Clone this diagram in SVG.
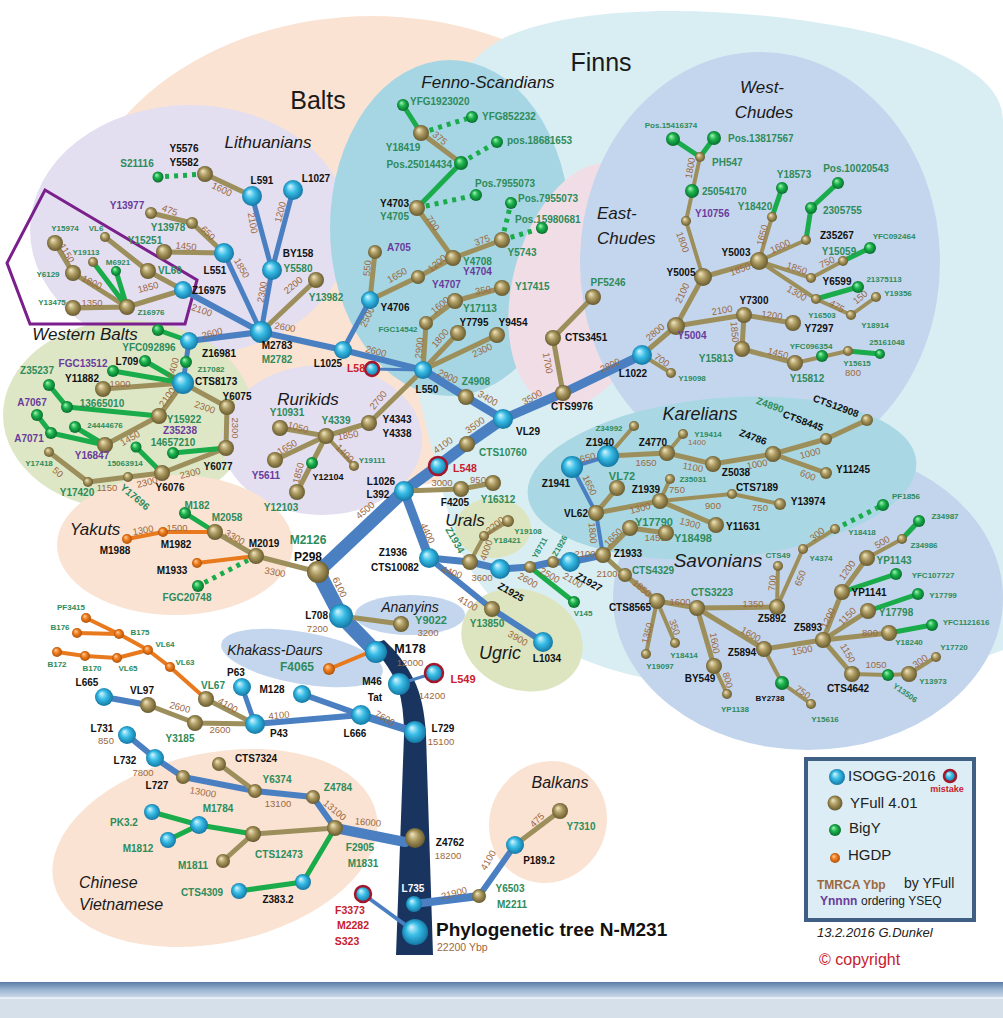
<svg xmlns="http://www.w3.org/2000/svg" width="1003" height="1018" viewBox="0 0 1003 1018">
<defs>
<radialGradient id="gc" cx="0.5" cy="0.5" r="0.55" fx="0.35" fy="0.3"><stop offset="0" stop-color="#d8f6ff"/><stop offset="0.45" stop-color="#38bde6"/><stop offset="1" stop-color="#0f6e9c"/></radialGradient>
<radialGradient id="gt" cx="0.5" cy="0.5" r="0.55" fx="0.35" fy="0.3"><stop offset="0" stop-color="#f1e7c2"/><stop offset="0.45" stop-color="#ab9960"/><stop offset="1" stop-color="#5f5228"/></radialGradient>
<radialGradient id="gg" cx="0.5" cy="0.5" r="0.55" fx="0.35" fy="0.3"><stop offset="0" stop-color="#aaf5b9"/><stop offset="0.45" stop-color="#1bb34c"/><stop offset="1" stop-color="#06652a"/></radialGradient>
<radialGradient id="go" cx="0.5" cy="0.5" r="0.55" fx="0.35" fy="0.3"><stop offset="0" stop-color="#ffd2a2"/><stop offset="0.45" stop-color="#ef7d1e"/><stop offset="1" stop-color="#a84d06"/></radialGradient>
<linearGradient id="bar" x1="0" y1="0" x2="0" y2="1"><stop offset="0" stop-color="#5a7ca6"/><stop offset="0.5" stop-color="#9db6d2"/><stop offset="1" stop-color="#d0dcea"/></linearGradient>
<style>
text{font-family:"Liberation Sans",Arial,sans-serif;dominant-baseline:central;text-anchor:middle}
.b{font-weight:bold;font-size:10px;fill:#111}
.g{font-weight:bold;font-size:10px;fill:#2e8b5a}
.gs{font-weight:bold;font-size:8px;fill:#2e8b5a}
.p{font-weight:bold;font-size:10px;fill:#6a3b9c}
.r{font-weight:bold;font-size:10.5px;fill:#c8202f}
.n{font-size:9.5px;fill:#9c6840}
.it{font-style:italic;font-size:17px;fill:#1a1a1a}
.big{font-size:25px;fill:#1a1a1a}
.s{text-anchor:start}
.e{text-anchor:end}
.bl{stroke:#4a7fc1;fill:none;stroke-linecap:round;stroke-linejoin:round}
.tn{stroke:#9c8f5c;stroke-width:5;fill:none;stroke-linecap:round;stroke-linejoin:round}
.tn4{stroke:#9c8f5c;stroke-width:4;fill:none;stroke-linecap:round;stroke-linejoin:round}
.gr{stroke:#1aab4b;stroke-width:5;fill:none;stroke-linecap:round;stroke-linejoin:round}
.dt{stroke:#1aab4b;stroke-width:5;fill:none;stroke-dasharray:4 5}
.or{stroke:#e8791d;stroke-width:4;fill:none;stroke-linecap:round;stroke-linejoin:round}
.c{fill:url(#gc)}.t{fill:url(#gt)}.gn{fill:url(#gg)}.o{fill:url(#go)}
.m{fill:url(#gc);stroke:#a3162b;stroke-width:2.5}
</style>
</defs>
<rect width="1003" height="1018" fill="#ffffff"/>
<g id="regions">
<ellipse cx="372" cy="252" rx="302" ry="236" fill="#fae3d3"/>
<path d="M500,40 C560,8 700,0 850,28 C950,48 1003,80 1003,120 L1003,650 C900,690 720,700 620,672 C540,650 470,600 450,520 C432,450 420,400 402,330 C392,200 430,80 500,40 Z" fill="#d9eef3"/>
<ellipse cx="190" cy="230" rx="160" ry="125" fill="#e3def0"/>
<ellipse cx="450" cy="228" rx="120" ry="168" fill="#a6d6e3"/>
<ellipse cx="585" cy="285" rx="72" ry="125" transform="rotate(15 585 285)" fill="#f1dde6"/>
<ellipse cx="760" cy="262" rx="180" ry="210" fill="#c4d6ee"/>
<ellipse cx="808" cy="598" rx="195" ry="152" fill="#c3d5ec"/>
<ellipse cx="722" cy="478" rx="195" ry="80" transform="rotate(-5 722 478)" fill="#a9d8e4"/>
<ellipse cx="128" cy="415" rx="125" ry="95" fill="#dde7c6"/>
<ellipse cx="322" cy="440" rx="100" ry="75" fill="#e3def0"/>
<ellipse cx="175" cy="545" rx="118" ry="70" fill="#fae3d3"/>
<ellipse cx="410" cy="615" rx="55" ry="20" fill="#c4d6ee"/>
<ellipse cx="302" cy="658" rx="82" ry="26" transform="rotate(10 302 658)" fill="#c4d6ee"/>
<ellipse cx="522" cy="640" rx="62" ry="50" transform="rotate(20 522 640)" fill="#dde5c0"/>
<ellipse cx="493" cy="528" rx="38" ry="30" fill="#dde5c0"/>
<ellipse cx="215" cy="848" rx="165" ry="95" transform="rotate(-12 215 848)" fill="#fae3d3"/>
<ellipse cx="548" cy="822" rx="58" ry="62" transform="rotate(30 548 822)" fill="#fae3d3"/>
<polygon points="45,190 197,280 185,324 30,324 7,263" fill="none" stroke="#7a1f8c" stroke-width="3"/>
<text class="big" x="318" y="100">Balts</text>
<text class="big" x="601" y="62">Finns</text>
<text class="it" x="268" y="142">Lithuanians</text>
<text class="it" x="488" y="82">Fenno-Scandians</text>
<text class="it" x="762" y="87">West-</text>
<text class="it" x="764" y="112">Chudes</text>
<text class="it s" x="597" y="213">East-</text>
<text class="it s" x="597" y="238">Chudes</text>
<text class="it" x="85" y="334">Western Balts</text>
<text class="it" x="308" y="399">Rurikids</text>
<text class="it" x="95" y="529">Yakuts</text>
<text class="it" x="465" y="520">Urals</text>
<text class="it" x="700" y="414" style="font-size:18px">Karelians</text>
<text class="it" x="718" y="560" style="font-size:19px">Savonians</text>
<text class="it" x="410" y="607" style="font-size:14px">Ananyins</text>
<text class="it" x="275" y="650" style="font-size:14px">Khakass-Daurs</text>
<text class="it" x="500" y="653" style="font-size:18px">Ugric</text>
<text class="it s" x="79" y="882" style="font-size:16px">Chinese</text>
<text class="it s" x="79" y="904" style="font-size:16px">Vietnamese</text>
<text class="it" x="560" y="782" style="font-size:16px">Balkans</text>
</g>
<g id="connectors">
<path d="M370,645 Q392,668 398,688 Q404,706 404,735 L396,955 L433,955 L426,735 Q424,700 414,680 Q402,656 384,640 Z" fill="#19355f"/>
<path class="bl" stroke-width="15" d="M318,572 L341,616 L376,652"/>
<path class="bl" stroke-width="13" d="M318,572 L404,491"/>
<path class="bl" stroke-width="11" d="M404,491 L438,466 L467,444 L503,419"/>
<path class="bl" stroke-width="9" d="M503,419 L563,393 L642,355"/>
<path class="bl" stroke-width="8" d="M503,419 L466,397 L423,370"/>
<path class="bl" stroke-width="6" d="M423,370 L343,350 L261,332"/>
<path class="bl" stroke-width="3" d="M372,369 L423,370"/>
<path class="bl" stroke-width="5" d="M343,350 L370,300"/>
<path class="bl" stroke-width="6" d="M261,332 L189,341"/>
<path class="bl" stroke-width="5" d="M189,341 L183,383"/>
<path class="bl" stroke-width="6" d="M261,332 L183,290"/>
<path class="bl" stroke-width="5" d="M261,332 L224,253 M261,332 L272,270 L252,196 M272,270 L293,190"/>
<path class="bl" stroke-width="9" d="M404,491 L429,558"/>
<path class="bl" stroke-width="7" d="M429,558 L470,562 L500,569 L530,567 L553,562 L570,562 L603,555"/>
<path class="bl" stroke-width="4" d="M603,555 L596,513 L572,467 L608,456"/>
<path class="bl" stroke-width="6" d="M429,558 L492,609 L543,642"/>
<path class="bl" stroke-width="3" d="M399,684 L434,673"/>
<path class="bl" stroke-width="8" d="M415,732 L361,715"/>
<path class="bl" stroke-width="6" d="M361,715 L302,694 M361,715 L255,724 M104,697 L148,705 M127,735 L155,758 L183,777 L255,791 L313,797 L335,828 M479,896 L515,845"/>
<path class="bl" stroke-width="5" d="M255,724 L242,687"/>
<path class="bl" stroke-width="10" d="M335,828 L405,842"/>
<path class="bl" stroke-width="4" d="M363,894 L415,932"/>
<path class="bl" stroke-width="8" d="M414,904 L479,896"/>
<path class="tn" stroke-width="7" d="M318,572 L256,556"/>
<path class="tn" d="M256,556L215,532 M404,491L461,489L493,483 M341,616L401,624 M148,705L195,723L255,724 M206,699L255,724 M423,370L426,323L455,301L502,288 M423,370L458,333 M423,370L497,335 M423,370L369,423 M370,300L375,252 M370,300L418,277L453,258L417,208 M453,258L502,240 M461,163L421,133 M563,393L553,338L593,297 M642,355L676,326L703,277 M703,277L759,261 M676,326L744,315L793,323 M744,315L742,349L795,363 M608,456L667,453L713,464L773,454L826,439L867,420 M773,454L826,473 M596,513L617,488 M596,513L660,501 M660,501L716,525 M603,555L630,528L666,533 M603,555L625,575L657,601L697,608L777,607 M697,608L764,649L823,640 M697,608L714,666 M823,640L842,592L867,558 M823,640L868,611 M823,640L889,633 M823,640L852,674 M205,174L252,196 M151,213L192,223L224,253 M164,252L224,253 M316,280L261,332 M55,243L73,273L127,307 M73,308L127,307 M127,307L183,290 M105,237L148,271L183,290 M183,383L103,389 M183,383L159,416L105,445 M183,383L227,407L226,448L162,473L128,477L88,482L49,452 M369,423L326,436 M326,436L280,428 M326,436L275,460 M326,436L297,492 M255,791L219,764 M253,834L223,861 M515,845L560,811"/>
<path class="tn" stroke-width="6" d="M335,828L253,834"/>
<path class="tn4" d="M470,562L484,536L508,521 M703,277L686,221L700,157 M642,355L671,373 M759,261L772,217 M759,261L806,240 M759,261L811,278L843,261 M759,261L816,299L851,315L876,297 M795,363L848,351 M608,456L634,426 M667,453L683,434 M660,501L670,479 M660,501L732,494L780,504 M777,607L778,566 M777,607L803,549L835,529 M657,601L646,654 M657,601L675,643 M714,666L727,694 M764,649L782,683L811,704 M867,558L902,539 M852,674L888,675L909,674L936,657 M326,436L354,466"/>
<path class="gr" d="M417,208L461,163 M421,133L403,105 M700,157L673,139 M700,157L714,138 M772,217L782,188 M806,240L811,208L838,183 M843,261L870,248 M816,299L858,287 M848,351L880,354 M842,592L896,574 M868,611L918,594 M889,633L932,625 M902,539L919,521 M127,307L93,262 M127,307L116,271 M189,341L158,330 M183,383L145,361 M183,383L113,371 M159,416L67,407L49,385 M105,445L75,427 M105,445L51,433L37,415 M226,448L173,453 M162,473L136,447 M215,532L185,513 M152,812L199,825L253,834 M168,840L199,825 M239,891L303,882L335,828"/>
<path class="gr" stroke-width="4" d="M530,567L574,602"/>
<path class="dt" d="M421,133L472,117 M461,163L497,142 M417,208L476,195 M502,240L511,203 M502,240L542,228 M835,529L883,505 M205,174L158,177 M256,556L198,586"/>
<path class="or" d="M215,532L163,532L127,539 M256,556L197,563 M86,618L119,634 M77,633L119,634 M119,634L148,650 M57,652L85,656L117,658L148,650 M148,650L170,667L206,699"/>
<path class="or" stroke-width="5" d="M329,669L365,654"/>
<g id="edge-labels">
<text class="n" x="222" y="189" transform="rotate(25 222 189)">1600</text>
<text class="n" x="253" y="223" transform="rotate(80 253 223)">2100</text>
<text class="n" x="280" y="212" transform="rotate(-75 280 212)">1200</text>
<text class="n" x="262" y="292" transform="rotate(-80 262 292)">2300</text>
<text class="n" x="293" y="285" transform="rotate(-40 293 285)">2200</text>
<text class="n" x="285" y="327" transform="rotate(10 285 327)">2600</text>
<text class="n" x="242" y="268" transform="rotate(60 242 268)">1850</text>
<text class="n" x="170" y="210" transform="rotate(20 170 210)">475</text>
<text class="n" x="208" y="233" transform="rotate(45 208 233)">650</text>
<text class="n" x="186" y="246" transform="rotate(5 186 246)">1450</text>
<text class="n" x="202" y="310" transform="rotate(20 202 310)">2100</text>
<text class="n" x="67" y="253" transform="rotate(60 67 253)">1150</text>
<text class="n" x="92" y="282" transform="rotate(25 92 282)">1800</text>
<text class="n" x="92" y="302">1350</text>
<text class="n" x="148" y="287" transform="rotate(-15 148 287)">1850</text>
<text class="n" x="440" y="138" transform="rotate(40 440 138)">375</text>
<text class="n" x="433" y="223" transform="rotate(55 433 223)">700</text>
<text class="n" x="482" y="240" transform="rotate(-20 482 240)">375</text>
<text class="n" x="367" y="268" transform="rotate(-85 367 268)">550</text>
<text class="n" x="397" y="275" transform="rotate(-30 397 275)">1650</text>
<text class="n" x="437" y="263" transform="rotate(-40 437 263)">1200</text>
<text class="n" x="483" y="290" transform="rotate(-10 483 290)">350</text>
<text class="n" x="440" y="305" transform="rotate(-40 440 305)">1600</text>
<text class="n" x="367" y="317" transform="rotate(-65 367 317)">2500</text>
<text class="n" x="419" y="348" transform="rotate(-85 419 348)">2900</text>
<text class="n" x="440" y="338" transform="rotate(-50 440 338)">1800</text>
<text class="n" x="482" y="350" transform="rotate(-25 482 350)">2300</text>
<text class="n" x="690" y="168" transform="rotate(-80 690 168)">1800</text>
<text class="n" x="683" y="242" transform="rotate(70 683 242)">1800</text>
<text class="n" x="740" y="269" transform="rotate(-20 740 269)">1850</text>
<text class="n" x="762" y="235" transform="rotate(-75 762 235)">1650</text>
<text class="n" x="780" y="246" transform="rotate(-25 780 246)">1600</text>
<text class="n" x="797" y="268" transform="rotate(20 797 268)">1850</text>
<text class="n" x="827" y="262" transform="rotate(-25 827 262)">750</text>
<text class="n" x="797" y="293" transform="rotate(30 797 293)">1300</text>
<text class="n" x="837" y="306" transform="rotate(30 837 306)">475</text>
<text class="n" x="860" y="297" transform="rotate(-40 860 297)">150</text>
<text class="n" x="682" y="293" transform="rotate(-65 682 293)">2100</text>
<text class="n" x="722" y="310" transform="rotate(-10 722 310)">2100</text>
<text class="n" x="772" y="315" transform="rotate(8 772 315)">1200</text>
<text class="n" x="735" y="332" transform="rotate(85 735 332)">1850</text>
<text class="n" x="778" y="353" transform="rotate(15 778 353)">1450</text>
<text class="n" x="853" y="372">800</text>
<text class="n" x="655" y="332" transform="rotate(-40 655 332)">2800</text>
<text class="n" x="662" y="360" transform="rotate(35 662 360)">700</text>
<text class="n" x="610" y="365" transform="rotate(-25 610 365)">2800</text>
<text class="n" x="548" y="363" transform="rotate(80 548 363)">1700</text>
<text class="n" x="376" y="351" transform="rotate(15 376 351)">2600</text>
<text class="n" x="448" y="376" transform="rotate(25 448 376)">2900</text>
<text class="n" x="488" y="398" transform="rotate(30 488 398)">3400</text>
<text class="n" x="532" y="397" transform="rotate(-30 532 397)">3500</text>
<text class="n" x="475" y="425" transform="rotate(-35 475 425)">3500</text>
<text class="n" x="443" y="445" transform="rotate(-35 443 445)">4100</text>
<text class="n" x="442" y="482">3000</text>
<text class="n" x="478" y="479">950</text>
<text class="n" x="365" y="510" transform="rotate(-40 365 510)">4500</text>
<text class="n" x="428" y="533" transform="rotate(65 428 533)">4400</text>
<text class="n" x="452" y="572" transform="rotate(20 452 572)">4400</text>
<text class="n" x="482" y="577">3600</text>
<text class="n" x="486" y="550" transform="rotate(-70 486 550)">4000</text>
<text class="n" x="495" y="525" transform="rotate(-40 495 525)">2200</text>
<text class="n" x="528" y="580" transform="rotate(30 528 580)">2600</text>
<text class="n" x="550" y="575" transform="rotate(30 550 575)">2500</text>
<text class="n" x="573" y="580" transform="rotate(30 573 580)">2100</text>
<text class="n" x="468" y="603" transform="rotate(30 468 603)">4100</text>
<text class="n" x="518" y="638" transform="rotate(30 518 638)">3900</text>
<text class="n" x="378" y="400" transform="rotate(-50 378 400)">2700</text>
<text class="n" x="340" y="587" transform="rotate(65 340 587)">6100</text>
<text class="n" x="298" y="427" transform="rotate(15 298 427)">1050</text>
<text class="n" x="348" y="435" transform="rotate(-10 348 435)">1850</text>
<text class="n" x="287" y="447" transform="rotate(-30 287 447)">1650</text>
<text class="n" x="298" y="473" transform="rotate(-75 298 473)">1850</text>
<text class="n" x="345" y="453" transform="rotate(45 345 453)">1400</text>
<text class="n" x="212" y="333" transform="rotate(-15 212 333)">2600</text>
<text class="n" x="173" y="368" transform="rotate(-75 173 368)">2400</text>
<text class="n" x="120" y="383">1900</text>
<text class="n" x="167" y="397" transform="rotate(-55 167 397)">2100</text>
<text class="n" x="130" y="438" transform="rotate(-30 130 438)">1450</text>
<text class="n" x="205" y="407" transform="rotate(20 205 407)">2300</text>
<text class="n" x="235" y="428" transform="rotate(90 235 428)">2300</text>
<text class="n" x="190" y="473" transform="rotate(-15 190 473)">2300</text>
<text class="n" x="147" y="482" transform="rotate(-15 147 482)">2300</text>
<text class="n" x="107" y="487">1150</text>
<text class="n" x="58" y="472" transform="rotate(40 58 472)">50</text>
<text class="n" x="143" y="530" transform="rotate(-10 143 530)">1300</text>
<text class="n" x="177" y="527">1500</text>
<text class="n" x="235" y="537" transform="rotate(30 235 537)">3300</text>
<text class="n" x="275" y="572" transform="rotate(10 275 572)">3300</text>
<text class="n" x="180" y="707" transform="rotate(15 180 707)">2600</text>
<text class="n" x="220" y="729">2600</text>
<text class="n" x="228" y="705" transform="rotate(30 228 705)">4100</text>
<text class="n" x="279" y="715" transform="rotate(-5 279 715)">4100</text>
<text class="n" x="385" y="718" transform="rotate(30 385 718)">7600</text>
<text class="n" x="203" y="792" transform="rotate(10 203 792)">13000</text>
<text class="n" x="278" y="803">13100</text>
<text class="n" x="335" y="810" transform="rotate(40 335 810)">13100</text>
<text class="n" x="368" y="822" transform="rotate(5 368 822)">16000</text>
<text class="n" x="454" y="893" transform="rotate(-15 454 893)">21900</text>
<text class="n" x="488" y="860" transform="rotate(-60 488 860)">4100</text>
<text class="n" x="537" y="820" transform="rotate(-45 537 820)">475</text>
<text class="n" x="810" y="453" transform="rotate(-15 810 453)">1000</text>
<text class="n" x="808" y="475" transform="rotate(20 808 475)">600</text>
<text class="n" x="757" y="464" transform="rotate(-10 757 464)">1000</text>
<text class="n" x="693" y="467" transform="rotate(10 693 467)">1100</text>
<text class="n" x="697" y="442" style="font-size:8px">1400</text>
<text class="n" x="646" y="462">1650</text>
<text class="n" x="585" y="458" transform="rotate(-15 585 458)">1650</text>
<text class="n" x="590" y="485" transform="rotate(65 590 485)">1650</text>
<text class="n" x="640" y="508" transform="rotate(-15 640 508)">1300</text>
<text class="n" x="677" y="489">750</text>
<text class="n" x="713" y="505">900</text>
<text class="n" x="760" y="507">750</text>
<text class="n" x="690" y="523" transform="rotate(15 690 523)">1300</text>
<text class="n" x="593" y="533" transform="rotate(85 593 533)">1800</text>
<text class="n" x="613" y="537" transform="rotate(-45 613 537)">1650</text>
<text class="n" x="655" y="537">1450</text>
<text class="n" x="585" y="553">2100</text>
<text class="n" x="607" y="573">2100</text>
<text class="n" x="642" y="588" transform="rotate(40 642 588)">1850</text>
<text class="n" x="680" y="601">1600</text>
<text class="n" x="753" y="603">1350</text>
<text class="n" x="772" y="583" transform="rotate(-85 772 583)">700</text>
<text class="n" x="800" y="578" transform="rotate(-70 800 578)">650</text>
<text class="n" x="817" y="534" transform="rotate(-40 817 534)">300</text>
<text class="n" x="647" y="633" transform="rotate(-75 647 633)">1350</text>
<text class="n" x="675" y="627" transform="rotate(70 675 627)">350</text>
<text class="n" x="715" y="643" transform="rotate(80 715 643)">1600</text>
<text class="n" x="728" y="680" transform="rotate(75 728 680)">800</text>
<text class="n" x="751" y="634" transform="rotate(30 751 634)">1600</text>
<text class="n" x="803" y="692" transform="rotate(35 803 692)">750</text>
<text class="n" x="802" y="650" transform="rotate(-10 802 650)">1500</text>
<text class="n" x="828" y="618" transform="rotate(-65 828 618)">1200</text>
<text class="n" x="847" y="570" transform="rotate(-55 847 570)">1200</text>
<text class="n" x="882" y="542" transform="rotate(-30 882 542)">500</text>
<text class="n" x="847" y="616" transform="rotate(-45 847 616)">1150</text>
<text class="n" x="870" y="632">800</text>
<text class="n" x="848" y="653" transform="rotate(60 848 653)">1150</text>
<text class="n" x="876" y="664">1050</text>
<text class="n" x="920" y="661" transform="rotate(-35 920 661)">300</text>
</g>
</g>
<g id="nodes">
<g id="n-S21116"><circle class="gn" cx="158" cy="177" r="5.5"/><text class="g" x="137" y="163">S21116</text></g>
<g id="n-Y5582"><circle class="t" cx="205" cy="174" r="8"/><text class="b" x="184" y="148">Y5576</text><text class="b" x="184" y="162">Y5582</text></g>
<g id="n-L591"><circle class="c" cx="252" cy="196" r="10"/><text class="b" x="262" y="180">L591</text></g>
<g id="n-L1027"><circle class="c" cx="293" cy="190" r="10"/><text class="b" x="316" y="178">L1027</text></g>
<g id="n-BY158"><circle class="c" cx="272" cy="270" r="10"/><text class="b" x="298" y="253">BY158</text><text class="g" x="298" y="268">Y5580</text></g>
<g id="n-Y13982"><circle class="t" cx="316" cy="280" r="8"/><text class="g" x="326" y="297">Y13982</text></g>
<g id="n-L551"><circle class="c" cx="224" cy="253" r="10"/><text class="b" x="215" y="270">L551</text></g>
<g id="n-Y13978"><circle class="t" cx="192" cy="223" r="6"/><text class="g" x="168" y="227">Y13978</text></g>
<g id="n-Y13977"><circle class="t" cx="151" cy="213" r="6"/><text class="p" x="127" y="205">Y13977</text></g>
<g id="n-Y15251"><circle class="t" cx="164" cy="252" r="8"/><text class="g" x="145" y="240">Y15251</text></g>
<g id="n-Z16975"><circle class="c" cx="183" cy="290" r="9"/><text class="b s" x="192" y="290">Z16975</text></g>
<g id="n-Y15974"><circle class="t" cx="55" cy="243" r="8"/><text class="gs" x="65" y="228">Y15974</text></g>
<g id="n-VL6"><circle class="t" cx="105" cy="237" r="5"/><text class="gs" x="96" y="228">VL6</text></g>
<g id="n-VL60"><circle class="t" cx="148" cy="271" r="8"/><text class="g s" x="158" y="270">VL60</text></g>
<g id="n-Y19113"><circle class="t" cx="93" cy="262" r="5"/><text class="gs" x="86" y="252">Y19113</text></g>
<g id="n-M6921"><circle class="gn" cx="116" cy="271" r="5"/><text class="gs" x="118" y="262">M6921</text></g>
<g id="n-Y6129"><circle class="t" cx="73" cy="273" r="8"/><text class="gs" x="48" y="274">Y6129</text></g>
<g id="n-Y13475"><circle class="t" cx="73" cy="308" r="8"/><text class="gs" x="52" y="302">Y13475</text></g>
<g id="n-Z16976"><circle class="t" cx="127" cy="307" r="8"/><text class="gs" x="151" y="312">Z16976</text></g>
<g id="n-M2783"><circle class="c" cx="261" cy="332" r="11"/><text class="b" x="277" y="345">M2783</text><text class="g" x="277" y="359">M2782</text></g>
<g id="n-YFC092896"><circle class="gn" cx="158" cy="330" r="6"/><text class="g" x="149" y="347">YFC092896</text></g>
<g id="n-Z16981"><circle class="c" cx="189" cy="341" r="9"/><text class="b" x="219" y="353">Z16981</text></g>
<g id="n-Z17082"><circle class="gn" cx="186" cy="362" r="6"/><text class="gs" x="211" y="369">Z17082</text></g>
<g id="n-CTS8173"><circle class="c" cx="183" cy="383" r="11"/><text class="b s" x="195" y="381">CTS8173</text></g>
<g id="n-L709"><circle class="gn" cx="145" cy="361" r="6"/><text class="b" x="127" y="361">L709</text></g>
<g id="n-FGC13512"><circle class="gn" cx="113" cy="371" r="6"/><text class="p" x="83" y="363">FGC13512</text></g>
<g id="n-Y11882"><circle class="t" cx="103" cy="389" r="8"/><text class="b" x="82" y="378">Y11882</text></g>
<g id="n-Z35237"><circle class="gn" cx="49" cy="385" r="6"/><text class="g" x="37" y="370">Z35237</text></g>
<g id="n-13665010"><circle class="gn" cx="67" cy="407" r="6"/><text class="g" x="102" y="403">13665010</text></g>
<g id="n-A7067"><circle class="gn" cx="37" cy="415" r="6"/><text class="p" x="32" y="402">A7067</text></g>
<g id="n-A7071"><circle class="gn" cx="51" cy="433" r="6"/><text class="p" x="29" y="438">A7071</text></g>
<g id="n-24444676"><circle class="gn" cx="75" cy="427" r="6"/><text class="gs" x="105" y="425">24444676</text></g>
<g id="n-Y16847"><circle class="t" cx="105" cy="445" r="8"/><text class="p" x="92" y="455">Y16847</text></g>
<g id="n-Y15922"><circle class="t" cx="159" cy="416" r="8"/><text class="g" x="184" y="419">Y15922</text><text class="p" x="180" y="430">Z35238</text></g>
<g id="n-Y6075"><circle class="t" cx="227" cy="407" r="8"/><text class="b" x="237" y="396">Y6075</text></g>
<g id="n-Y6077"><circle class="t" cx="226" cy="448" r="8"/><text class="b" x="218" y="466">Y6077</text></g>
<g id="n-14657210"><circle class="gn" cx="173" cy="453" r="6"/><text class="g" x="173" y="442">14657210</text></g>
<g id="n-15063914"><circle class="gn" cx="136" cy="447" r="5.5"/><text class="gs" x="125" y="463">15063914</text></g>
<g id="n-Y6076"><circle class="t" cx="162" cy="473" r="8"/><text class="b" x="170" y="487">Y6076</text></g>
<g id="n-Y17696"><circle class="t" cx="128" cy="477" r="5"/><text class="g" x="135" y="497" transform="rotate(40 135 497)">Y17696</text></g>
<g id="n-Y17420"><circle class="t" cx="88" cy="482" r="5"/><text class="g" x="77" y="492">Y17420</text></g>
<g id="n-Y17418"><circle class="t" cx="49" cy="452" r="5"/><text class="gs" x="39" y="463">Y17418</text></g>
<g id="n-Y10931"><circle class="t" cx="280" cy="428" r="8"/><text class="g" x="287" y="412">Y10931</text></g>
<g id="n-Y4339"><circle class="t" cx="326" cy="436" r="8"/><text class="g" x="336" y="420">Y4339</text></g>
<g id="n-Y4343"><circle class="t" cx="369" cy="423" r="8"/><text class="b" x="397" y="419">Y4343</text><text class="b" x="397" y="433">Y4338</text></g>
<g id="n-Y5611"><circle class="t" cx="275" cy="460" r="8"/><text class="p" x="266" y="475">Y5611</text></g>
<g id="n-Y12104"><circle class="gn" cx="312" cy="463" r="6"/><text class="b" x="328" y="477" style="font-size:9px">Y12104</text></g>
<g id="n-Y12103"><circle class="t" cx="297" cy="492" r="8"/><text class="g" x="281" y="507">Y12103</text></g>
<g id="n-Y19111"><circle class="t" cx="354" cy="466" r="5"/><text class="gs" x="372" y="460">Y19111</text></g>
<g id="n-M182"><circle class="gn" cx="185" cy="513" r="6"/><text class="g" x="197" y="505">M182</text></g>
<g id="n-M2058"><circle class="t" cx="215" cy="532" r="8"/><text class="g" x="227" y="517">M2058</text></g>
<g id="n-M1982"><circle class="o" cx="163" cy="532" r="5"/><text class="b" x="176" y="544">M1982</text></g>
<g id="n-M1988"><circle class="o" cx="127" cy="539" r="5"/><text class="b" x="115" y="550">M1988</text></g>
<g id="n-M2019"><circle class="t" cx="256" cy="556" r="8"/><text class="b" x="264" y="543">M2019</text></g>
<g id="n-M1933"><circle class="o" cx="197" cy="563" r="5"/><text class="b" x="172" y="570">M1933</text></g>
<g id="n-FGC20748"><circle class="gn" cx="198" cy="586" r="6"/><text class="g" x="187" y="597">FGC20748</text></g>
<g id="n-P298"><circle class="t" cx="318" cy="572" r="11"/><text class="g" x="308" y="540" style="font-size:12px">M2126</text><text class="b" x="308" y="557" style="font-size:12px">P298</text></g>
<g id="n-Y4706"><circle class="c" cx="370" cy="300" r="9"/><text class="b" x="395" y="307">Y4706</text></g>
<g id="n-A705"><circle class="t" cx="375" cy="252" r="7"/><text class="p s" x="387" y="247">A705</text></g>
<g id="n-Y4707"><circle class="t" cx="418" cy="277" r="7"/><text class="p s" x="432" y="284">Y4707</text></g>
<g id="n-Y4708"><circle class="t" cx="453" cy="258" r="8"/><text class="g s" x="463" y="261">Y4708</text><text class="p s" x="463" y="271">Y4704</text></g>
<g id="n-Y4703"><circle class="t" cx="417" cy="208" r="8"/><text class="b e" x="409" y="203">Y4703</text><text class="g e" x="409" y="216">Y4705</text></g>
<g id="n-Pos25014434"><circle class="gn" cx="461" cy="163" r="7"/><text class="g e" x="452" y="164">Pos.25014434</text></g>
<g id="n-Y18419"><circle class="t" cx="421" cy="133" r="8"/><text class="g" x="403" y="147">Y18419</text></g>
<g id="n-YFG1923020"><circle class="gn" cx="403" cy="105" r="6"/><text class="g s" x="410" y="101">YFG1923020</text></g>
<g id="n-YFG852232"><circle class="gn" cx="472" cy="117" r="6"/><text class="g s" x="482" y="116">YFG852232</text></g>
<g id="n-pos18681653"><circle class="gn" cx="497" cy="142" r="6"/><text class="g s" x="507" y="140">pos.18681653</text></g>
<g id="n-Pos7955073a"><circle class="gn" cx="476" cy="195" r="6"/><text class="g" x="505" y="183">Pos.7955073</text></g>
<g id="n-Y5743"><circle class="t" cx="502" cy="240" r="8"/><text class="g" x="522" y="252">Y5743</text></g>
<g id="n-Pos7955073b"><circle class="gn" cx="511" cy="203" r="6"/><text class="g s" x="518" y="198">Pos.7955073</text></g>
<g id="n-Pos15980681"><circle class="gn" cx="542" cy="228" r="6"/><text class="g s" x="515" y="219">Pos.15980681</text></g>
<g id="n-FGC14542"><circle class="t" cx="426" cy="323" r="7"/><text class="gs" x="398" y="329">FGC14542</text></g>
<g id="n-Y17113"><circle class="t" cx="455" cy="301" r="8"/><text class="g s" x="463" y="308">Y17113</text></g>
<g id="n-Y17415"><circle class="t" cx="502" cy="288" r="8"/><text class="g s" x="515" y="286">Y17415</text></g>
<g id="n-Y7795"><circle class="t" cx="458" cy="333" r="8"/><text class="b" x="474" y="322">Y7795</text></g>
<g id="n-Y9454"><circle class="t" cx="497" cy="335" r="8"/><text class="b" x="513" y="322">Y9454</text></g>
<g id="n-L1025"><circle class="c" cx="343" cy="350" r="9"/><text class="b" x="328" y="363">L1025</text></g>
<g id="n-L58"><circle class="m" cx="372" cy="369" r="7"/><text class="r" x="356" y="368">L58</text></g>
<g id="n-L550"><circle class="c" cx="423" cy="370" r="9"/><text class="b" x="427" y="389">L550</text></g>
<g id="n-Z4908"><circle class="t" cx="466" cy="397" r="8"/><text class="g" x="476" y="381">Z4908</text></g>
<g id="n-VL29"><circle class="c" cx="503" cy="419" r="10"/><text class="b" x="528" y="431">VL29</text></g>
<g id="n-CTS10760"><circle class="t" cx="467" cy="444" r="8"/><text class="g" x="503" y="452">CTS10760</text></g>
<g id="n-L548"><circle class="m" cx="438" cy="466" r="9"/><text class="r" x="465" y="468">L548</text></g>
<g id="n-L1026"><circle class="c" cx="404" cy="491" r="10"/><text class="b" x="381" y="481">L1026</text><text class="b" x="378" y="494">L392</text></g>
<g id="n-F4205"><circle class="t" cx="461" cy="489" r="8"/><text class="b" x="455" y="502">F4205</text></g>
<g id="n-Y16312"><circle class="t" cx="493" cy="483" r="8"/><text class="g" x="498" y="499">Y16312</text></g>
<g id="n-CTS9976"><circle class="t" cx="563" cy="393" r="8"/><text class="b" x="572" y="406">CTS9976</text></g>
<g id="n-CTS3451"><circle class="t" cx="553" cy="338" r="8"/><text class="b s" x="565" y="337">CTS3451</text></g>
<g id="n-PF5246"><circle class="t" cx="593" cy="297" r="8"/><text class="g" x="608" y="282">PF5246</text></g>
<g id="n-L1022"><circle class="c" cx="642" cy="355" r="10"/><text class="b" x="633" y="373">L1022</text></g>
<g id="n-Z1936"><circle class="c" cx="429" cy="558" r="10"/><text class="b" x="393" y="552">Z1936</text><text class="b" x="395" y="567">CTS10082</text></g>
<g id="n-Z1934"><circle class="t" cx="470" cy="562" r="8"/><text class="g" x="455" y="540" transform="rotate(60 455 540)">Z1934</text></g>
<g id="n-Y18421"><circle class="t" cx="484" cy="536" r="5"/><text class="gs" x="507" y="540">Y18421</text></g>
<g id="n-Y19108"><circle class="t" cx="508" cy="521" r="6"/><text class="gs" x="528" y="531">Y19108</text></g>
<g id="n-Z1925"><circle class="c" cx="500" cy="569" r="10"/><text class="b" x="511" y="592" transform="rotate(30 511 592)">Z1925</text></g>
<g id="n-Y8711"><circle class="t" cx="530" cy="567" r="6"/><text class="gs" x="540" y="548" transform="rotate(-60 540 548)">Y8711</text></g>
<g id="n-Z1926"><circle class="t" cx="553" cy="562" r="6"/><text class="gs" x="560" y="546" transform="rotate(-60 560 546)">Z1926</text></g>
<g id="n-Z1927"><circle class="c" cx="570" cy="562" r="10"/><text class="b" x="589" y="582" transform="rotate(30 589 582)">Z1927</text></g>
<g id="n-V145"><circle class="gn" cx="574" cy="602" r="6"/><text class="gs" x="583" y="613">V145</text></g>
<g id="n-Y13850"><circle class="t" cx="492" cy="609" r="8"/><text class="g" x="487" y="623">Y13850</text></g>
<g id="n-L1034"><circle class="c" cx="543" cy="642" r="10"/><text class="b" x="547" y="658">L1034</text></g>
<g id="n-Y9022"><circle class="t" cx="401" cy="624" r="8"/><text class="g" x="431" y="620" style="font-size:11px">Y9022</text><text class="n" x="428" y="632">3200</text></g>
<g id="n-L708"><circle class="c" cx="341" cy="616" r="12"/><text class="b e" x="328" y="615">L708</text><text class="n e" x="328" y="628">7200</text></g>
<g id="n-M178"><circle class="c" cx="376" cy="652" r="11"/><text class="b" x="410" y="649" style="font-size:12.5px">M178</text><text class="n" x="410" y="662">12000</text></g>
<g id="n-M46"><circle class="c" cx="399" cy="684" r="11"/><text class="b" x="372" y="681">M46</text><text class="b" x="375" y="697">Tat</text></g>
<g id="n-L549"><circle class="m" cx="434" cy="673" r="9"/><text class="r" x="463" y="679" style="font-size:11px">L549</text><text class="n" x="432" y="695">14200</text></g>
<g id="n-L666"><circle class="c" cx="361" cy="715" r="10"/><text class="b" x="355" y="733">L666</text></g>
<g id="n-L729"><circle class="c" cx="415" cy="732" r="11"/><text class="b" x="443" y="728">L729</text><text class="n" x="441" y="741">15100</text></g>
<g id="n-F4065"><circle class="o" cx="329" cy="669" r="6"/><text class="g" x="297" y="667" style="font-size:12px">F4065</text></g>
<g id="n-PF3415"><circle class="o" cx="86" cy="618" r="5"/><text class="gs" x="71" y="607">PF3415</text></g>
<g id="n-B176"><circle class="o" cx="77" cy="633" r="5"/><text class="gs" x="60" y="627">B176</text></g>
<g id="n-B175"><circle class="o" cx="119" cy="634" r="5"/><text class="gs" x="140" y="632">B175</text></g>
<g id="n-B172"><circle class="o" cx="57" cy="652" r="5"/><text class="gs" x="57" y="664">B172</text></g>
<g id="n-B170"><circle class="o" cx="85" cy="656" r="5"/><text class="gs" x="92" y="668">B170</text></g>
<g id="n-VL65"><circle class="o" cx="117" cy="658" r="5"/><text class="gs" x="128" y="668">VL65</text></g>
<g id="n-VL64"><circle class="o" cx="148" cy="650" r="5"/><text class="gs" x="165" y="644">VL64</text></g>
<g id="n-VL63"><circle class="o" cx="170" cy="667" r="5"/><text class="gs" x="185" y="662">VL63</text></g>
<g id="n-VL67"><circle class="t" cx="206" cy="699" r="8"/><text class="g" x="213" y="685">VL67</text></g>
<g id="n-P63"><circle class="c" cx="242" cy="687" r="9"/><text class="b" x="236" y="672">P63</text></g>
<g id="n-M128"><circle class="c" cx="302" cy="694" r="9"/><text class="b" x="272" y="689">M128</text></g>
<g id="n-P43"><circle class="c" cx="255" cy="724" r="10"/><text class="b" x="279" y="733">P43</text></g>
<g id="n-L665"><circle class="c" cx="104" cy="697" r="9"/><text class="b" x="87" y="682">L665</text></g>
<g id="n-VL97"><circle class="t" cx="148" cy="705" r="8"/><text class="b" x="142" y="690">VL97</text></g>
<g id="n-Y3185"><circle class="t" cx="195" cy="723" r="8"/><text class="g" x="180" y="738">Y3185</text></g>
<g id="n-L731"><circle class="c" cx="127" cy="735" r="9"/><text class="b" x="102" y="728">L731</text><text class="n" x="106" y="740">850</text></g>
<g id="n-L732"><circle class="c" cx="155" cy="758" r="9"/><text class="b" x="125" y="760">L732</text><text class="n" x="143" y="772">7800</text></g>
<g id="n-L727"><circle class="t" cx="183" cy="777" r="7"/><text class="b" x="157" y="785">L727</text></g>
<g id="n-CTS7324"><circle class="t" cx="219" cy="764" r="7"/><text class="b" x="256" y="758">CTS7324</text></g>
<g id="n-Y6374"><circle class="t" cx="255" cy="791" r="7"/><text class="g" x="277" y="779">Y6374</text></g>
<g id="n-Z4784"><circle class="t" cx="313" cy="797" r="7"/><text class="g" x="338" y="787">Z4784</text></g>
<g id="n-F2905"><circle class="t" cx="335" cy="828" r="8"/><text class="g" x="360" y="847">F2905</text><text class="g" x="363" y="863">M1831</text></g>
<g id="n-CTS12473"><circle class="t" cx="253" cy="834" r="8"/><text class="g" x="279" y="854">CTS12473</text></g>
<g id="n-M1784"><circle class="c" cx="199" cy="825" r="9"/><text class="g" x="218" y="808">M1784</text></g>
<g id="n-PK3.2"><circle class="c" cx="152" cy="812" r="8"/><text class="g" x="124" y="822">PK3.2</text></g>
<g id="n-M1812"><circle class="c" cx="168" cy="840" r="8"/><text class="g" x="138" y="848">M1812</text></g>
<g id="n-M1811"><circle class="t" cx="223" cy="861" r="7"/><text class="g" x="193" y="865">M1811</text></g>
<g id="n-CTS4309"><circle class="c" cx="239" cy="891" r="8"/><text class="g" x="202" y="892">CTS4309</text></g>
<g id="n-Z383.2"><circle class="c" cx="303" cy="882" r="8"/><text class="b" x="278" y="899">Z383.2</text></g>
<g id="n-Z4762"><circle class="t" cx="415" cy="838" r="10"/><text class="b" x="450" y="842">Z4762</text><text class="n" x="448" y="855">18200</text></g>
<g id="n-F3373"><circle class="m" cx="363" cy="894" r="8"/><text class="r" x="350" y="910">F3373</text><text class="r" x="353" y="925">M2282</text><text class="r" x="347" y="941">S323</text></g>
<g id="n-L735"><circle class="c" cx="414" cy="904" r="8"/><text class="b" x="413" y="888" style="fill:#ffffff">L735</text></g>
<g id="n-root"><circle class="c" cx="415" cy="932" r="13"/><text class="b s" x="436" y="929" style="font-size:19px">Phylogenetic tree N-M231</text><text class="n s" x="437" y="947" style="font-size:10.5px">22200 Ybp</text></g>
<g id="n-Y6503"><circle class="t" cx="479" cy="896" r="7"/><text class="g" x="510" y="888">Y6503</text><text class="g" x="512" y="904">M2211</text></g>
<g id="n-P189.2"><circle class="c" cx="515" cy="845" r="9"/><text class="b" x="539" y="860">P189.2</text></g>
<g id="n-Y7310"><circle class="t" cx="560" cy="811" r="8"/><text class="g" x="581" y="826">Y7310</text></g>
<g id="n-Pos15416374"><circle class="gn" cx="673" cy="139" r="7"/><text class="gs" x="671" y="125">Pos.15416374</text></g>
<g id="n-Pos13817567"><circle class="gn" cx="714" cy="138" r="7"/><text class="g s" x="728" y="138">Pos.13817567</text></g>
<g id="n-PH547"><circle class="t" cx="700" cy="157" r="5"/><text class="g s" x="712" y="162">PH547</text></g>
<g id="n-25054170"><circle class="gn" cx="692" cy="191" r="7"/><text class="g s" x="702" y="191">25054170</text></g>
<g id="n-Y10756"><circle class="t" cx="686" cy="221" r="5"/><text class="p s" x="695" y="213">Y10756</text></g>
<g id="n-Y5005"><circle class="t" cx="703" cy="277" r="9"/><text class="b" x="681" y="272">Y5005</text></g>
<g id="n-Y5003"><circle class="t" cx="759" cy="261" r="9"/><text class="b" x="736" y="252">Y5003</text></g>
<g id="n-Y18420"><circle class="t" cx="772" cy="217" r="5"/><text class="g" x="755" y="206">Y18420</text></g>
<g id="n-Y18573"><circle class="gn" cx="782" cy="188" r="6"/><text class="g" x="794" y="174">Y18573</text></g>
<g id="n-Z35267"><circle class="t" cx="806" cy="240" r="5"/><text class="b s" x="820" y="235">Z35267</text></g>
<g id="n-2305755"><circle class="gn" cx="811" cy="208" r="6"/><text class="g s" x="823" y="210">2305755</text></g>
<g id="n-Pos10020543"><circle class="gn" cx="838" cy="183" r="6"/><text class="g" x="856" y="168">Pos.10020543</text></g>
<g id="n-Y6599"><circle class="t" cx="811" cy="278" r="5"/><text class="b" x="837" y="281">Y6599</text></g>
<g id="n-Y15059"><circle class="t" cx="843" cy="261" r="5"/><text class="g" x="839" y="251">Y15059</text></g>
<g id="n-YFC092464"><circle class="gn" cx="870" cy="248" r="6"/><text class="gs" x="894" y="236">YFC092464</text></g>
<g id="n-Y16503"><circle class="t" cx="816" cy="299" r="5"/><text class="gs" x="822" y="315">Y16503</text></g>
<g id="n-21375113"><circle class="gn" cx="858" cy="287" r="6"/><text class="gs" x="884" y="279">21375113</text></g>
<g id="n-Y18914"><circle class="t" cx="851" cy="315" r="5"/><text class="gs" x="875" y="325">Y18914</text></g>
<g id="n-Y19356"><circle class="t" cx="876" cy="297" r="5"/><text class="gs" x="898" y="293">Y19356</text></g>
<g id="n-Y5004"><circle class="t" cx="676" cy="326" r="9"/><text class="p" x="692" y="335">Y5004</text></g>
<g id="n-Y19098"><circle class="t" cx="671" cy="373" r="5"/><text class="gs" x="692" y="378">Y19098</text></g>
<g id="n-Y7300"><circle class="t" cx="744" cy="315" r="8"/><text class="b" x="754" y="300">Y7300</text></g>
<g id="n-Y7297"><circle class="t" cx="793" cy="323" r="8"/><text class="b" x="819" y="328">Y7297</text></g>
<g id="n-Y15813"><circle class="t" cx="742" cy="349" r="8"/><text class="g" x="716" y="358">Y15813</text></g>
<g id="n-Y15812"><circle class="t" cx="795" cy="363" r="8"/><text class="g" x="807" y="378">Y15812</text></g>
<g id="n-YFC096354"><circle class="gn" cx="822" cy="356" r="6"/><text class="gs" x="811" y="346">YFC096354</text></g>
<g id="n-Y15615"><circle class="t" cx="848" cy="351" r="5"/><text class="gs" x="857" y="363">Y15615</text></g>
<g id="n-25161048"><circle class="gn" cx="880" cy="354" r="5"/><text class="gs" x="887" y="342">25161048</text></g>
<g id="n-Z1941"><circle class="c" cx="572" cy="467" r="11"/><text class="b" x="556" y="483">Z1941</text></g>
<g id="n-Z1940"><circle class="c" cx="608" cy="456" r="11"/><text class="b" x="600" y="442">Z1940</text></g>
<g id="n-Z34992"><circle class="t" cx="634" cy="426" r="5"/><text class="gs" x="609" y="428">Z34992</text></g>
<g id="n-Z4770"><circle class="t" cx="667" cy="453" r="8"/><text class="b" x="653" y="442">Z4770</text></g>
<g id="n-Y19414"><circle class="t" cx="683" cy="434" r="5"/><text class="gs" x="708" y="434">Y19414</text></g>
<g id="n-Z5038"><circle class="t" cx="713" cy="464" r="8"/><text class="b" x="736" y="472">Z5038</text></g>
<g id="n-Z4786"><circle class="t" cx="773" cy="454" r="8"/><text class="b" x="753" y="437" transform="rotate(20 753 437)">Z4786</text></g>
<g id="n-CTS8445"><circle class="t" cx="826" cy="439" r="6"/><text class="g" x="770" y="405" transform="rotate(20 770 405)">Z4890</text><text class="b" x="803" y="421" transform="rotate(20 803 421)">CTS8445</text></g>
<g id="n-CTS12908"><circle class="t" cx="867" cy="420" r="6"/><text class="b" x="836" y="406" transform="rotate(20 836 406)">CTS12908</text></g>
<g id="n-Y11245"><circle class="t" cx="826" cy="473" r="6"/><text class="b" x="853" y="469">Y11245</text></g>
<g id="n-VL62"><circle class="t" cx="596" cy="513" r="8"/><text class="b" x="576" y="513">VL62</text></g>
<g id="n-VL72"><circle class="t" cx="617" cy="488" r="8"/><text class="g" x="622" y="476" style="font-size:11px">VL72</text></g>
<g id="n-Z1939"><circle class="t" cx="660" cy="501" r="8"/><text class="b" x="646" y="489">Z1939</text></g>
<g id="n-Z35031"><circle class="t" cx="670" cy="479" r="5"/><text class="gs" x="693" y="479">Z35031</text></g>
<g id="n-CTS7189"><circle class="t" cx="732" cy="494" r="5"/><text class="b" x="757" y="487">CTS7189</text></g>
<g id="n-Y13974"><circle class="t" cx="780" cy="504" r="6"/><text class="b" x="808" y="501">Y13974</text></g>
<g id="n-Y11631"><circle class="t" cx="716" cy="525" r="8"/><text class="b" x="743" y="526">Y11631</text></g>
<g id="n-Z1933"><circle class="t" cx="603" cy="555" r="8"/><text class="b" x="628" y="553">Z1933</text></g>
<g id="n-Y17790"><circle class="t" cx="630" cy="528" r="8"/><text class="g" x="654" y="522" style="font-size:11px">Y17790</text></g>
<g id="n-Y18498"><circle class="t" cx="666" cy="533" r="8"/><text class="g" x="693" y="538" style="font-size:11px">Y18498</text></g>
<g id="n-CTS4329"><circle class="t" cx="625" cy="575" r="7"/><text class="g" x="653" y="570">CTS4329</text></g>
<g id="n-CTS8565"><circle class="t" cx="657" cy="601" r="8"/><text class="b" x="630" y="607">CTS8565</text></g>
<g id="n-CTS3223"><circle class="t" cx="697" cy="608" r="8"/><text class="g" x="712" y="592">CTS3223</text></g>
<g id="n-Z5892"><circle class="t" cx="777" cy="607" r="8"/><text class="b" x="772" y="618">Z5892</text></g>
<g id="n-CTS49"><circle class="t" cx="778" cy="566" r="5"/><text class="gs" x="778" y="555">CTS49</text></g>
<g id="n-Y4374"><circle class="t" cx="803" cy="549" r="5"/><text class="gs" x="821" y="558">Y4374</text></g>
<g id="n-Y18418"><circle class="t" cx="835" cy="529" r="5"/><text class="gs" x="862" y="532">Y18418</text></g>
<g id="n-PF1856"><circle class="gn" cx="883" cy="505" r="6"/><text class="gs" x="906" y="496">PF1856</text></g>
<g id="n-Y19097"><circle class="t" cx="646" cy="654" r="5"/><text class="gs" x="660" y="666">Y19097</text></g>
<g id="n-Y18414"><circle class="t" cx="675" cy="643" r="5"/><text class="gs" x="684" y="655">Y18414</text></g>
<g id="n-BY549"><circle class="t" cx="714" cy="666" r="8"/><text class="b" x="700" y="678">BY549</text></g>
<g id="n-YP1138"><circle class="t" cx="727" cy="694" r="5"/><text class="gs" x="735" y="709">YP1138</text></g>
<g id="n-Z5894"><circle class="t" cx="764" cy="649" r="8"/><text class="b" x="742" y="652">Z5894</text></g>
<g id="n-BY2738"><circle class="gn" cx="782" cy="683" r="7"/><text class="b" x="770" y="698" style="font-size:8px">BY2738</text></g>
<g id="n-Y15616"><circle class="t" cx="811" cy="704" r="5"/><text class="gs" x="825" y="719">Y15616</text></g>
<g id="n-Z5893"><circle class="t" cx="823" cy="640" r="8"/><text class="b" x="808" y="627">Z5893</text></g>
<g id="n-YP1141"><circle class="t" cx="842" cy="592" r="8"/><text class="b" x="869" y="592">YP1141</text></g>
<g id="n-YP1143"><circle class="t" cx="867" cy="558" r="8"/><text class="g" x="894" y="560">YP1143</text></g>
<g id="n-Z34986"><circle class="t" cx="902" cy="539" r="5"/><text class="gs" x="924" y="545">Z34986</text></g>
<g id="n-Z34987"><circle class="gn" cx="919" cy="521" r="6"/><text class="gs" x="945" y="516">Z34987</text></g>
<g id="n-YFC107727"><circle class="gn" cx="896" cy="574" r="6"/><text class="gs" x="933" y="575">YFC107727</text></g>
<g id="n-Y17798"><circle class="t" cx="868" cy="611" r="8"/><text class="g" x="896" y="612">Y17798</text></g>
<g id="n-Y17799"><circle class="gn" cx="918" cy="594" r="6"/><text class="gs" x="943" y="595">Y17799</text></g>
<g id="n-Y18240"><circle class="t" cx="889" cy="633" r="8"/><text class="gs" x="909" y="642">Y18240</text></g>
<g id="n-YFC1121616"><circle class="gn" cx="932" cy="625" r="6"/><text class="gs" x="966" y="622">YFC1121616</text></g>
<g id="n-CTS4642"><circle class="t" cx="852" cy="674" r="8"/><text class="b" x="848" y="688">CTS4642</text></g>
<g id="n-Y13506"><circle class="gn" cx="888" cy="675" r="6"/><text class="gs" x="905" y="693" transform="rotate(35 905 693)">Y13506</text></g>
<g id="n-Y13973"><circle class="t" cx="909" cy="674" r="8"/><text class="gs" x="933" y="681">Y13973</text></g>
<g id="n-Y17720"><circle class="t" cx="936" cy="657" r="5"/><text class="gs" x="954" y="647">Y17720</text></g>
</g>
<g id="legend">
<rect x="806" y="759" width="168" height="161" fill="#dcedf5" stroke="#3f5f85" stroke-width="4"/>
<circle class="c" cx="837" cy="777" r="8"/><text class="s" x="848" y="775" style="font-size:15px;fill:#222">ISOGG-2016</text>
<circle class="m" cx="950" cy="776" r="6"/><text x="947" y="789" style="font-size:9px;font-weight:bold;fill:#c8202f">mistake</text>
<circle class="t" cx="835" cy="803" r="7.5"/><text class="s" x="850" y="802" style="font-size:15px;fill:#222">YFull 4.01</text>
<circle class="gn" cx="835" cy="830" r="6"/><text class="s" x="849" y="827" style="font-size:15px;fill:#222">BigY</text>
<circle class="o" cx="835" cy="858" r="5"/><text class="s" x="848" y="854" style="font-size:15px;fill:#222">HGDP</text>
<text class="s" x="817" y="885" style="font-size:12px;font-weight:bold;fill:#9c6840">TMRCA Ybp</text>
<text class="s" x="904" y="883" style="font-size:14px;fill:#222">by YFull</text>
<text class="s" x="820" y="901" style="font-size:12px;font-weight:bold;fill:#6a3b9c">Ynnnn</text>
<text class="s" x="861" y="901" style="font-size:12px;fill:#222">ordering YSEQ</text>
<text class="s" x="817" y="932" style="font-size:13px;font-style:italic;fill:#222">13.2.2016 G.Dunkel</text>
<text class="s" x="819" y="959" style="font-size:16px;fill:#c8202f">© copyright</text>
</g>
<g id="footer">
<rect x="0" y="982" width="1003" height="16" fill="url(#bar)"/>
<rect x="0" y="998" width="1003" height="20" fill="#d6e0eb"/>
<line x1="0" y1="998" x2="1003" y2="998" stroke="#eef3f8" stroke-width="1.5"/>
</g>
</svg>
